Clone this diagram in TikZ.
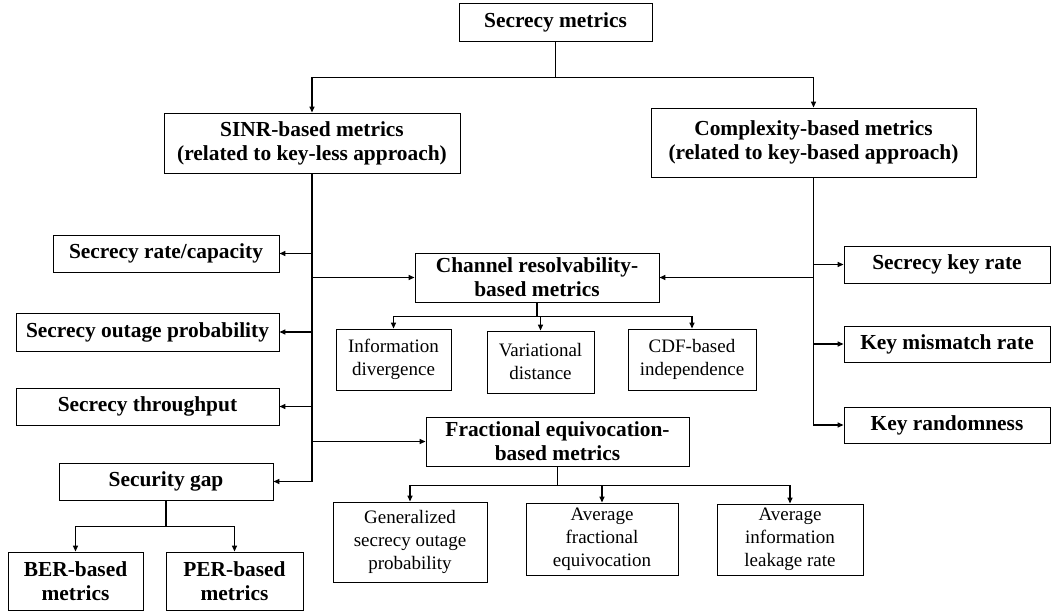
\documentclass[tikz,border=0pt]{standalone}
\usepackage{fontspec}
\setmainfont{Liberation Serif}
\usetikzlibrary{arrows.meta}
\begin{document}
\begin{tikzpicture}[x=1pt,y=-1pt,
  sz/.style 2 args={minimum width=#1pt,minimum height=#2pt},
  box/.style={draw,line width=0.9pt,inner sep=0pt,align=center},
  bbox/.style={box,font=\fontsize{21.4}{24}\selectfont\bfseries},
  rbox/.style={box,font=\fontsize{19}{23}\selectfont},
  link/.style={line width=1.4pt},
  arr/.style={link,-{Triangle[length=6pt,width=5pt]}}]
\useasboundingbox (0,0) rectangle (1052,612);

% root and the two families
\node[bbox,sz={193}{38}] (top) at (555.5,22) {Secrecy metrics};
\node[bbox,sz={296}{60}] (sinr) at (312,143) {SINR-based metrics\\(related to key-less approach)};
\node[bbox,sz={325}{69}] (cplx) at (813.5,142.5) {Complexity-based metrics\\(related to key-based approach)};

% key-less metrics (left column)
\node[bbox,sz={226}{37}] (rate) at (166,253.5) {Secrecy rate/capacity};
\node[bbox,sz={263}{38}] (outage) at (147.5,332) {Secrecy outage probability};
\node[bbox,sz={263}{37}] (thru) at (147.5,406.5) {Secrecy throughput};
\node[bbox,sz={214}{37}] (gap) at (166,481.5) {Security gap};
\node[bbox,sz={135}{58}] (ber) at (75.5,581) {BER-based\\metrics};
\node[bbox,sz={137}{58}] (per) at (234.5,581) {PER-based\\metrics};

% shared metrics (middle)
\node[bbox,sz={244}{49}] (chan) at (537,277.5) {Channel resolvability-\\based metrics};
\node[rbox,sz={115}{61}] (info) at (393.5,359.5) {Information\\divergence};
\node[rbox,sz={107}{62}] (var) at (540.5,362) {Variational\\distance};
\node[rbox,sz={128}{61}] (cdf) at (692,359.5) {CDF-based\\independence};
\node[bbox,sz={263}{49}] (frac) at (557.5,441.5) {Fractional equivocation-\\based metrics};
\node[rbox,sz={154}{80}] (gen) at (410,542) {Generalized\\secrecy outage\\probability};
\node[rbox,sz={152}{72}] (avgf) at (602,539) {Average\\fractional\\equivocation};
\node[rbox,sz={146}{71}] (avgi) at (790,539.5) {Average\\information\\leakage rate};

% key-based metrics (right column)
\node[bbox,sz={206}{37}] (skr) at (947,264.5) {Secrecy key rate};
\node[bbox,sz={206}{36}] (kmr) at (947,344) {Key mismatch rate};
\node[bbox,sz={206}{36}] (krand) at (947,425) {Key randomness};

% root split
\draw[link] (top.south) -- ++(0,36) coordinate (rj);
\draw[arr] (rj) -| (sinr.north);
\draw[arr] (rj) -| (cplx.north);

% left trunk
\draw[arr] (sinr.south) |- (gap.east);
\draw[arr] (sinr.south |- rate.east) -- (rate.east);
\draw[arr] (sinr.south |- outage.east) -- (outage.east);
\draw[arr] (sinr.south |- thru.east) -- (thru.east);
\draw[arr] (sinr.south |- chan.west) -- (chan.west);
\draw[arr] (sinr.south |- frac.west) -- (frac.west);

% right trunk
\draw[arr] (cplx.south) |- (krand.west);
\draw[arr] (cplx.south |- skr.west) -- (skr.west);
\draw[arr] (cplx.south |- kmr.west) -- (kmr.west);
\draw[arr] (cplx.south |- chan.east) -- (chan.east);

% channel resolvability children
\draw[link] (chan.south) -- ++(0,14) coordinate (cj);
\draw[arr] (cj) -| (info.north);
\draw[arr] (cj) -| (var.north);
\draw[arr] (cj) -| (cdf.north);

% fractional equivocation children
\draw[link] (frac.south) -- ++(0,19) coordinate (fj);
\draw[arr] (fj) -| (gen.north);
\draw[arr] (fj) -| (avgf.north);
\draw[arr] (fj) -| (avgi.north);

% security gap children
\draw[link] (gap.south) -- ++(0,26) coordinate (gj);
\draw[arr] (gj) -| (ber.north);
\draw[arr] (gj) -| (per.north);
\end{tikzpicture}
\end{document}
